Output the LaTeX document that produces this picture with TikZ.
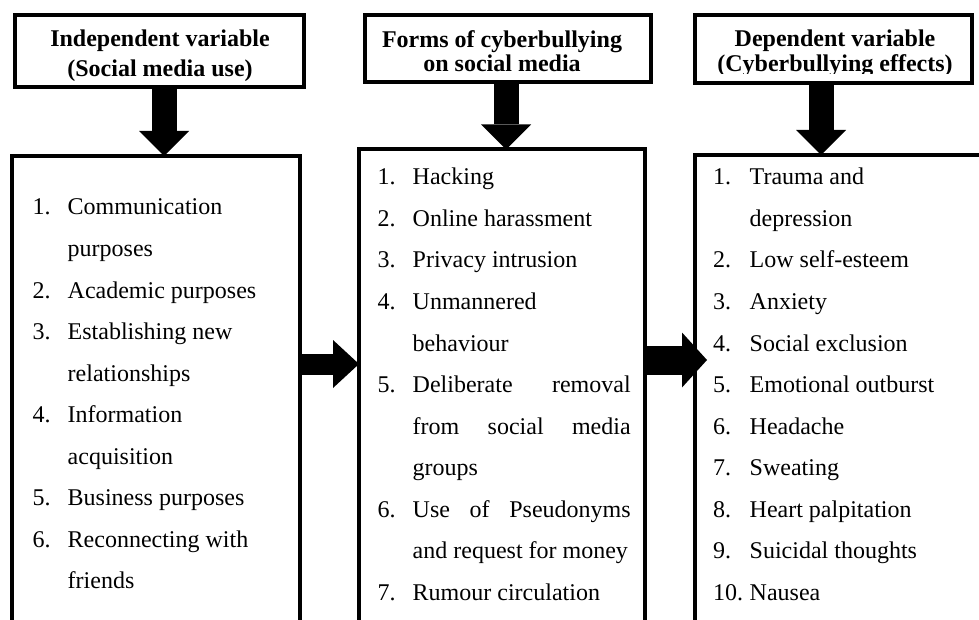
\documentclass[tikz,border=0pt]{standalone}
\usepackage{fontspec}
\setmainfont{Liberation Serif}
\usetikzlibrary{arrows.meta, positioning, calc}

\begin{document}
\begin{tikzpicture}[x=1pt, y=-1pt,
      hdbox/.style={draw, line width=4pt, outer sep=0pt, inner sep=0pt},
      hdtxt/.style={inner sep=0pt, anchor=base, font=\fontsize{24}{28}\selectfont\bfseries},
      listbox/.style={draw, line width=4pt, outer sep=0pt, inner sep=0pt, anchor=north west},
      item/.style={inner sep=0pt, anchor=base west, font=\fontsize{24}{28}\selectfont},
      downarrow/.style={line width=25pt,
                  -{Triangle[length=25pt 0 0, width=50pt 0 0, line width=0pt]}}]
    \useasboundingbox (0,0) rectangle (979,620);
    \clip (0,0) rectangle (979,620);
    % header boxes
    \node[hdbox, minimum width=288.7pt, minimum height=72.8pt] (h1) at (159.7,51.1) {};
    \node[hdbox, minimum width=286pt, minimum height=67.3pt] (h2) at (507.7,48.3) {};
    \node[hdbox, minimum width=277.5pt, minimum height=68.3pt] (h3) at (833.7,48.9) {};
    \node[hdtxt] (h1a) at (160,47) {Independent variable};
    \node[hdtxt] (h1b) at (160,77) {(Social media use)};
    \node[hdtxt] (h2a) at (502,48) {Forms of cyberbullying};
    \node[hdtxt] (h3a) at (835,47) {Dependent variable};
    \begin{scope}
      \clip (h2.north west) rectangle ([yshift=9.5pt]h3.south east);
      \node[hdtxt] (h2b) at (502,72) {on social media};
      \node[hdtxt] (h3b) at (835,71.5) {(Cyberbullying effects)};
    \end{scope}
    % list boxes (run past the bottom edge)
    \node[listbox, minimum width=288pt, minimum height=500pt] (b1) at (12,156) {};
    \node[listbox, minimum width=286pt, minimum height=500pt] (b2) at (359,149.5) {};
    \node[listbox, minimum width=320pt, minimum height=500pt] (b3) at (695,155) {};
    % arrows
    \coordinate (d1) at (164,0);
    \coordinate (d2) at (506,0);
    \coordinate (d3) at (821,0);
    \draw[downarrow] (h1.south -| d1) -- (b1.north -| d1);
    \draw[downarrow] (h2.south -| d2) -- (b2.north -| d2);
    \draw[downarrow] (h3.south -| d3) -- (b3.north -| d3);
    \coordinate (r1) at (0,364);
    \coordinate (r2) at (0,360);
    \draw[line width=21pt, -{Triangle[length=26pt 0 0, width=48pt 0 0, line width=0pt]}]
      (b1.east |- r1) -- (b2.west |- r1);
    \draw[line width=29pt, -{Triangle[length=25pt 0 0, width=55pt 0 0, line width=0pt]}]
      (b2.east |- r2) -- ($(b3.west |- r2)+(12,0)$);
    % list texts
    \foreach \n/\t [count=\i from 0] in {1./Communication, /purposes,
        2./Academic purposes, 3./Establishing new, /relationships,
        4./Information, /acquisition, 5./Business purposes,
        6./Reconnecting with, /friends}
      \node[item] (a\i) at (32.5,{215+41.5*\i}) {\makebox[35pt][l]{\n}\t};
    \foreach \n/\t [count=\i from 0] in {1./Hacking, 2./Online harassment,
        3./Privacy intrusion, 4./Unmannered, /behaviour,
        5./{\makebox[218pt]{Deliberate\hfill removal}},
        /{\makebox[218pt]{from\hfill social\hfill media}}, /groups,
        6./{\makebox[218pt]{Use\hfill of\hfill Pseudonyms}},
        /and request for money, 7./Rumour circulation}
      \node[item] (b\i) at (377.5,{185+41.5*\i}) {\makebox[35pt][l]{\n}\t};
    \foreach \n/\t [count=\i from 0] in {1./Trauma and, /depression,
        2./Low self-esteem, 3./Anxiety, 4./Social exclusion,
        5./Emotional outburst, 6./Headache, 7./Sweating,
        8./Heart palpitation, 9./Suicidal thoughts, 10./Nausea}
      \node[item] (c\i) at (713,{185+41.5*\i}) {\makebox[36.5pt][l]{\n}\t};
  \end{tikzpicture}
\end{document}
